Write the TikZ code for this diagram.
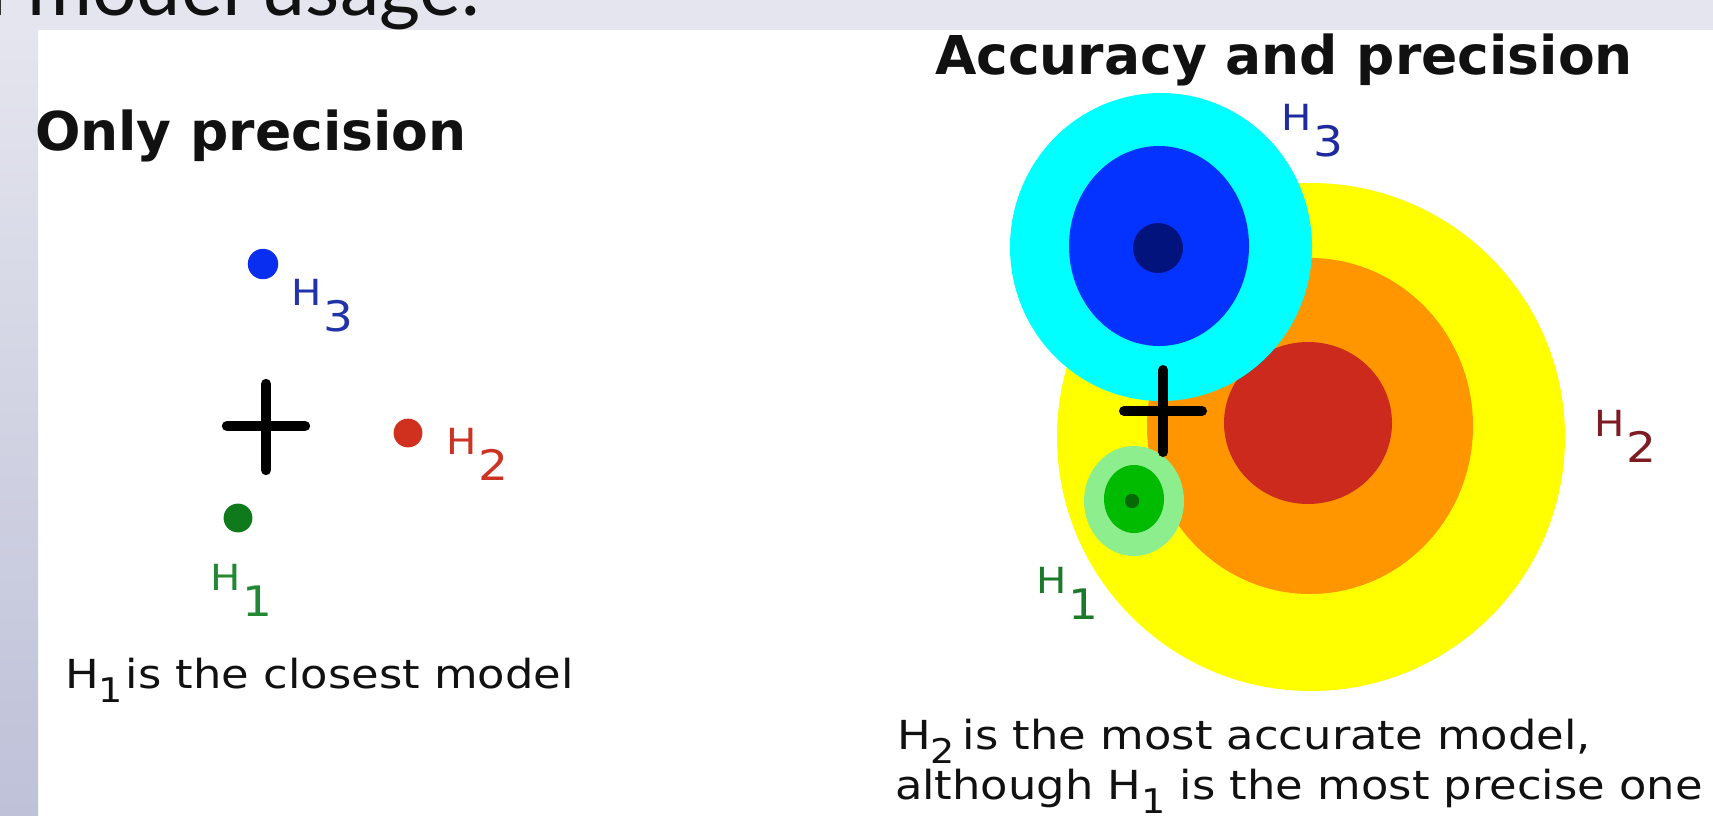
\documentclass[tikz,border=0pt]{standalone}
\usepackage{fontspec}
\setmainfont{DejaVu Sans}
\newfontfamily\bodyf[FakeStretch=1.12]{DejaVu Sans}
\newfontfamily\slidef{Lato}
\definecolor{bandc}{HTML}{E4E5EE}
\definecolor{barbot}{HTML}{BEC1D8}
\definecolor{yelc}{HTML}{FFFF00}
\definecolor{orgc}{HTML}{FF9600}
\definecolor{redc}{HTML}{CB2A1C}
\definecolor{cyanc}{HTML}{00FFFF}
\definecolor{bluec}{HTML}{0433FF}
\definecolor{navyc}{HTML}{03137E}
\definecolor{lgreenc}{HTML}{8CEE8C}
\definecolor{greenc}{HTML}{00BB00}
\definecolor{dgreenc}{HTML}{056A05}
\definecolor{dotblue}{HTML}{0A2EF0}
\definecolor{dotred}{HTML}{D0311E}
\definecolor{dotgreen}{HTML}{0E7A1C}
\definecolor{labblue}{HTML}{2233AA}
\definecolor{labred}{HTML}{CC3322}
\definecolor{labgreen}{HTML}{228833}
\definecolor{rlabblue}{HTML}{1F2A9E}
\definecolor{rlabred}{HTML}{7E1C24}
\definecolor{rlabgreen}{HTML}{1A7A2A}
\definecolor{inkc}{HTML}{111111}
\newcommand\hlab[1]{{\fontsize{18pt}{18pt}\selectfont H}\kern1pt\raisebox{-13pt}{\fontsize{21pt}{21pt}\selectfont #1}}
\newcommand\subdig[1]{\raisebox{-7pt}{\fontsize{17pt}{17pt}\selectfont #1}}
\begin{document}
\begin{tikzpicture}[x=0.5pt,y=-0.5pt,
  txt/.style={inner sep=0pt,outer sep=0pt,anchor=base west},
  title/.style={txt,text=inkc,font=\fontsize{26.75pt}{30pt}\selectfont\bfseries},
  body/.style={txt,text=inkc,font=\bodyf\fontsize{20pt}{24pt}\selectfont},
  lab/.style={txt,font=\bodyf},
  crossline/.style={line width=5.2pt,line cap=round,draw=black}]
\useasboundingbox (0,0) rectangle (1713,815);
\clip (0,0) rectangle (1713,815);
% background
\fill[white] (0,0) rectangle (1713,815);
\fill[bandc] (0,0) rectangle (1713,30);
\shade[top color=bandc,bottom color=barbot] (0,30) rectangle (38,815);
\node[txt,anchor=base east,text=inkc,font=\slidef\fontsize{39.5pt}{40pt}\selectfont] (slidetitle) at (480,15) {l model usage.};

% ---------- left panel ----------
\node[title] (tleft) at (35,150) {Only precision};
\fill[dotblue] (263,264) circle [radius=7.6pt];
\fill[dotred] (408,433) circle [radius=7.2pt];
\fill[dotgreen] (238,518) circle [radius=7.2pt];
\draw[crossline] (227,426) -- (305,426);
\draw[crossline] (266,384) -- (266,470);
\node[lab,text=labblue] (lh3) at (291,305) {\hlab{3}};
\node[lab,text=labred] (lh2) at (446,454) {\hlab{2}};
\node[lab,text=labgreen] (lh1) at (210,590) {\hlab{1}};
\node[body] (bleft) at (65,688) {H\subdig{1}\kern1.5pt is the closest model};

% ---------- right panel ----------
\node[title] (tright) at (935,74) {Accuracy and precision};
\fill[yelc] (1311,437) circle [radius=127pt];
\fill[orgc] (1310,426) ellipse [x radius=81.5pt,y radius=84pt];
\fill[redc] (1308,423) ellipse [x radius=42pt,y radius=40.5pt];
\fill[cyanc] (1161,247) ellipse [x radius=75.5pt,y radius=77pt];
\fill[bluec] (1159,246) ellipse [x radius=45pt,y radius=50pt];
\fill[navyc] (1158,248) ellipse [x radius=12.5pt,y radius=12.5pt];
\fill[lgreenc] (1134,501) ellipse [x radius=25pt,y radius=27.5pt];
\fill[greenc] (1134,499) ellipse [x radius=15pt,y radius=17pt];
\fill[dgreenc] (1132,501) circle [radius=3.6pt];
\draw[crossline,line width=5pt] (1124,411) -- (1202,411);
\draw[crossline,line width=5pt] (1163,370) -- (1163,452);
\node[lab,text=rlabblue] (rh3) at (1281,130) {\hlab{3}};
\node[lab,text=rlabred] (rh2) at (1594,436) {\hlab{2}};
\node[lab,text=rlabgreen] (rh1) at (1036,593) {\hlab{1}};
\node[body] (bright1) at (897,749) {H\subdig{2}\kern4pt is the most accurate model,};
\node[body] (bright2) at (895,799) {although H\subdig{1} is the most precise one};
\end{tikzpicture}
\end{document}
